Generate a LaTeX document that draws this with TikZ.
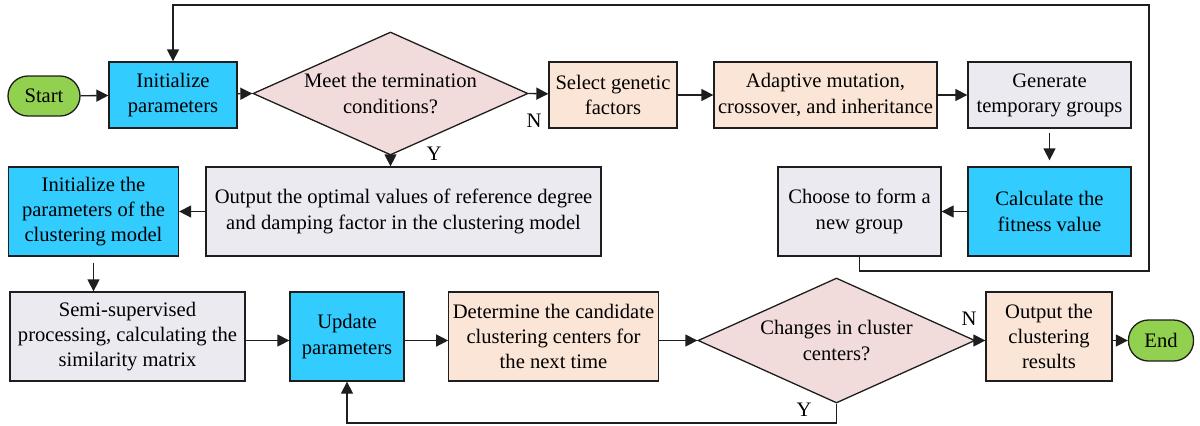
\documentclass[tikz,border=0pt]{standalone}
\usepackage{fontspec}
\setmainfont{Liberation Serif}
\usetikzlibrary{shapes.geometric,arrows.meta}

\definecolor{termgreen}{RGB}{146,208,80}
\definecolor{procblue}{RGB}{51,204,255}
\definecolor{decpink}{RGB}{242,220,219}
\definecolor{procpeach}{RGB}{251,229,214}
\definecolor{proclav}{RGB}{236,234,241}
\definecolor{linegray}{RGB}{30,30,30}

\newcommand{\flowfont}{\rmfamily\fontsize{10.3}{12.6}\selectfont}

\tikzset{
  base/.style={draw=linegray, line width=0.65pt, align=center, inner sep=2pt,
               font=\flowfont},
  terminal/.style={base, fill=termgreen, rounded corners=10pt},
  blueproc/.style={base, fill=procblue},
  peachproc/.style={base, fill=procpeach},
  lavproc/.style={base, fill=proclav},
  decision/.style={base, diamond, aspect=2.24, fill=decpink, inner sep=0pt},
  flow/.style={draw=linegray, line width=0.65pt, -{Triangle[length=6pt,width=6pt]}},
  tag/.style={font=\flowfont, inner sep=0pt}
}

\begin{document}
\begin{tikzpicture}[x=0.5pt, y=-0.5pt]
\useasboundingbox (0,0) rectangle (1200,425);

% top row: genetic search for the model parameters
\node[terminal, minimum width=36pt, minimum height=20pt] (start) at (44,96) {Start};
\node[blueproc, minimum width=64pt, minimum height=33pt] (init) at (173,95) {Initialize\\parameters};
\node[decision, minimum width=137.5pt, minimum height=61.5pt] (d1) at (390.5,93.5) {Meet the termination\\conditions?};
\node[peachproc, minimum width=64pt, minimum height=33pt] (select) at (613,95) {Select genetic\\factors};
\node[peachproc, minimum width=111.5pt, minimum height=33pt] (adapt) at (825.5,95) {Adaptive mutation,\\crossover, and inheritance};
\node[lavproc, minimum width=81.5pt, minimum height=33pt] (gen) at (1049.5,95) {Generate\\temporary groups};

% middle row
\node[blueproc, minimum width=81.5pt, minimum height=44.5pt] (calc) at (1049.5,211.5) {Calculate the\\fitness value};
\node[lavproc, minimum width=81.5pt, minimum height=44.5pt] (choose) at (859.5,211.5) {Choose to form a\\new group};
\node[lavproc, minimum width=197.5pt, minimum height=44.5pt] (outopt) at (403.5,211.5) {Output the optimal values of reference degree\\and damping factor in the clustering model};
\node[blueproc, minimum width=85pt, minimum height=44.5pt] (initc) at (93.5,211.5) {Initialize the\\parameters of the\\clustering model};

% bottom row: clustering
\node[lavproc, minimum width=117.5pt, minimum height=44.5pt] (semi) at (127.5,336.5) {Semi-supervised\\processing, calculating the\\similarity matrix};
\node[blueproc, minimum width=57pt, minimum height=44.5pt] (update) at (347,336.5) {Update\\parameters};
\node[peachproc, minimum width=103.5pt, minimum height=44.5pt] (determ) at (553.5,336.5) {Determine the candidate\\clustering centers for\\the next time};
\node[decision, minimum width=138.5pt, minimum height=62.5pt] (d2) at (836.5,340.5) {Changes in cluster\\centers?};
\node[peachproc, minimum width=63pt, minimum height=44.5pt] (outc) at (1049,336.5) {Output the\\clustering\\results};
\node[terminal, minimum width=32.5pt, minimum height=20.5pt] (end) at (1161,340.5) {End};

% branch labels
\node[tag] (n1) at (534,121) {N};
\node[tag] (y1) at (434,154) {Y};
\node[tag] (n2) at (969,319) {N};
\node[tag] (y2) at (804,410) {Y};

% loop-back corners
\coordinate (lp1) at (859.5,271);
\coordinate (lp2) at (1149,271);
\coordinate (lp3) at (1149,5);
\coordinate (lp4) at (173,5);
\coordinate (yl1) at (836.5,423);
\coordinate (yl2) at (347,423);

% connectors
\draw[flow] (start) -- (init);
\draw[flow] (init) -- (d1.west);
\draw[flow] (d1.east) -- (select);
\draw[flow] (select) -- (adapt);
\draw[flow] (adapt) -- (gen);
\draw[flow, shorten <=2pt, shorten >=3pt] (gen) -- (calc);
\draw[flow] (calc) -- (choose);
\draw[flow] (choose.south) -- (lp1) -- (lp2) -- (lp3) -- (lp4) -- (init.north);
\draw[flow] (d1.south) -- (outopt.north -| d1.south);
\draw[flow] (outopt) -- (initc);
\draw[flow, shorten <=3pt] (initc) -- (semi.north -| initc);
% bottom row runs along the decision's axis
\draw[flow] (semi.east |- d2.west) -- (update.west |- d2.west);
\draw[flow] (update.east |- d2.west) -- (determ.west |- d2.west);
\draw[flow] (determ.east |- d2.west) -- (d2.west);
\draw[flow] (d2.east) -- (outc.west |- d2.east);
\draw[flow] (outc.east |- end.west) -- (end);
\draw[flow] (d2.south) -- (yl1) -- (yl2) -- (update.south);
\end{tikzpicture}
\end{document}
